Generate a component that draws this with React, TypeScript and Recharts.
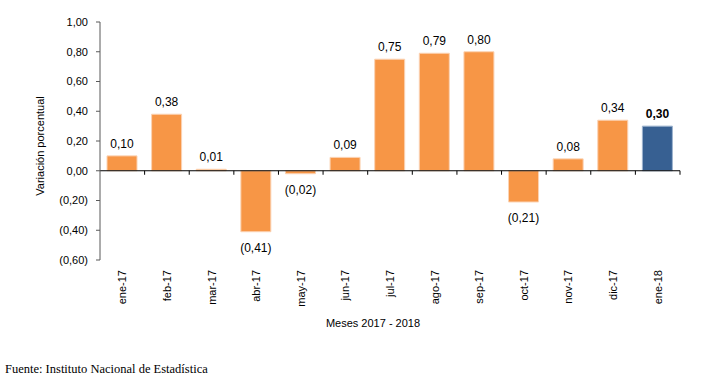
import React from 'react';
import { BarChart, Bar, XAxis, YAxis, ReferenceLine, LabelList, Cell } from 'recharts';

const months = ['ene-17', 'feb-17', 'mar-17', 'abr-17', 'may-17', 'jun-17', 'jul-17', 'ago-17', 'sep-17', 'oct-17', 'nov-17', 'dic-17', 'ene-18'];
const variation = [0.1, 0.38, 0.01, -0.41, -0.02, 0.09, 0.75, 0.79, 0.8, -0.21, 0.08, 0.34, 0.3];
const yTicks = [-0.6, -0.4, -0.2, 0, 0.2, 0.4, 0.6, 0.8, 1.0];

const data = months.map((m, i) => ({ month: m, value: variation[i] }));

const ORANGE = '#F79646';
const BLUE = '#376092';
const FONT = "'Liberation Sans', Arial, sans-serif";

const fmt = (v: number) => {
  const s = Math.abs(v).toFixed(2).replace('.', ',');
  return v < 0 ? `(${s})` : s;
};

const MonthTick = (props: any) => {
  const { x, y, payload } = props;
  return (
    <g transform={`translate(${x},${y})`}>
      <text transform="rotate(-90)" textAnchor="end" dy={4} fontSize={11} fill="#000" fontFamily={FONT}>
        {payload.value}
      </text>
    </g>
  );
};

// zero line with the category separator ticks
const ZeroLine = (props: any) => {
  const { x1, y1, x2 } = props;
  const step = (x2 - x1) / months.length;
  return (
    <g>
      <line x1={x1} y1={y1} x2={x2} y2={y1} stroke="#000" strokeWidth={1} />
      {months.map((m, i) => (
        <line key={m} x1={x1 + step * (i + 1)} y1={y1} x2={x1 + step * (i + 1)} y2={y1 + 4} stroke="#000" strokeWidth={1} />
      ))}
    </g>
  );
};

const ValueLabel = (props: any) => {
  const { x, y, width, height, value, index } = props;
  const top = Math.min(y, y + height);
  const bottom = Math.max(y, y + height);
  const ty = value >= 0 ? top - 8 : bottom + 20;
  const last = index === months.length - 1;
  return (
    <text x={x + width / 2} y={ty} textAnchor="middle" fontSize={12} fill="#000" fontFamily={FONT} fontWeight={last ? 'bold' : 'normal'}>
      {fmt(value)}
    </text>
  );
};

export default function App() {
  return (
    <div style={{ position: 'absolute', left: 0, top: 0, width: 709, height: 385, background: '#fff' }}>
      <BarChart
        width={709}
        height={385}
        data={data}
        margin={{ top: 22, right: 29, left: 5, bottom: 50 }}
        barSize={30}
      >
        <XAxis
          dataKey="month"
          axisLine={false}
          tickLine={false}
          tickMargin={4}
          interval={0}
          height={75}
          tick={<MonthTick />}
          label={{
            content: (p: any) => {
              const vb = p.viewBox;
              return (
                <text x={vb.x + vb.width / 2 - 17} y={vb.y + 67} textAnchor="middle" fontSize={11} fill="#000" fontFamily={FONT}>
                  Meses 2017 - 2018
                </text>
              );
            },
          }}
        />
        <YAxis
          width={95}
          domain={[-0.6, 1]}
          ticks={yTicks}
          interval={0}
          tickFormatter={fmt}
          tickSize={4}
          tickMargin={8}
          tick={{ fontSize: 11, fill: '#000', fontFamily: FONT }}
          axisLine={{ stroke: '#595959' }}
          tickLine={{ stroke: '#595959' }}
          label={{
            content: (p: any) => {
              const vb = p.viewBox;
              const cx = vb.x + 35;
              const cy = vb.y + vb.height / 2 + 5;
              return (
                <text x={cx} y={cy} transform={`rotate(-90 ${cx} ${cy})`} textAnchor="middle" dominantBaseline="central" fontSize={11} fill="#000" fontFamily={FONT}>
                  Variación porcentual
                </text>
              );
            },
          }}
        />
        <Bar dataKey="value" fill={ORANGE} stroke="#FBD3B4" strokeWidth={1} isAnimationActive={false}>
          {data.map((d, i) => (
            <Cell key={d.month} fill={i === data.length - 1 ? BLUE : ORANGE} stroke={i === data.length - 1 ? '#9DB3CF' : '#FBD3B4'} />
          ))}
          <LabelList dataKey="value" content={<ValueLabel />} />
        </Bar>
        <ReferenceLine y={0} shape={<ZeroLine />} />
      </BarChart>
      <div
        style={{
          position: 'absolute',
          left: 5,
          top: 362,
          fontFamily: "'Liberation Serif', 'Times New Roman', serif",
          fontSize: 12.5,
          color: '#000',
          whiteSpace: 'nowrap',
        }}
      >
        Fuente: Instituto Nacional de Estadística
      </div>
    </div>
  );
}
